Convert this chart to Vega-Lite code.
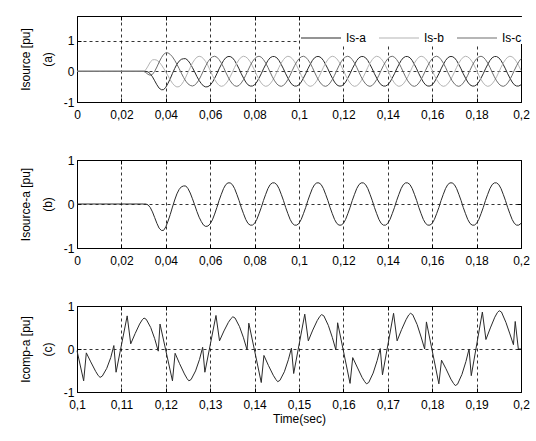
{
"$schema":"https://vega.github.io/schema/vega-lite/v6.json",
"background":"white",
"padding":{"left":18,"top":15,"right":10,"bottom":3},
"config":{
"font":"Liberation Sans",
"view":{"stroke":"black","strokeWidth":1},
"axis":{"domain":false,"grid":true,"gridColor":"black","gridDash":[3,3],"gridWidth":0.8,"gridOpacity":1,"ticks":true,"tickColor":"black","tickSize":-4,"tickWidth":1,"labelColor":"black","labelFontSize":12,"labelFont":"Liberation Sans","labelPadding":7,"labelFlush":false,"labelOverlap":false,"titleFont":"Liberation Sans","titleFontSize":12,"titleFontWeight":"normal","titleColor":"black","titlePadding":6},
"axisX":{"labelPadding":11,"titlePadding":3},
"axisY":{"titleLineHeight":22,"titlePadding":9},
"legend":{"labelFont":"Liberation Sans","labelColor":"black"}
},
"datasets":{
"s":[
{"t":0,"a":0,"b":0,"c":0},{"t":0.01,"a":0,"b":0,"c":0},{"t":0.02,"a":0,"b":0,"c":0},{"t":0.03,"a":0,"b":0,"c":0},
{"t":0.031,"a":0,"b":0.05,"c":-0.04},{"t":0.032,"a":-0.02,"b":0.17,"c":-0.10},{"t":0.033,"a":-0.08,"b":0.30,"c":-0.13},{"t":0.034,"a":-0.18,"b":0.37,"c":-0.10},
{"t":0.035,"a":-0.31,"b":0.38,"c":0.0},{"t":0.036,"a":-0.44,"b":0.36,"c":0.14},{"t":0.037,"a":-0.55,"b":0.30,"c":0.30},{"t":0.038,"a":-0.60,"b":0.21,"c":0.44},
{"t":0.039,"a":-0.60,"b":0.10,"c":0.55},{"t":0.04,"a":-0.52,"b":-0.02,"c":0.60},{"t":0.041,"a":-0.39,"b":-0.15,"c":0.60},{"t":0.042,"a":-0.24,"b":-0.28,"c":0.55},
{"t":0.043,"a":-0.07,"b":-0.39,"c":0.47},{"t":0.044,"a":0.09,"b":-0.47,"c":0.36},{"t":0.045,"a":0.23,"b":-0.51,"c":0.23},{"t":0.046,"a":0.33,"b":-0.50,"c":0.09},
{"t":0.047,"a":0.39,"b":-0.44,"c":-0.06},{"t":0.048,"a":0.41,"b":-0.33,"c":-0.20},{"t":0.049,"a":0.41,"b":-0.19,"c":-0.32},{"t":0.05,"a":0.35,"b":-0.03,"c":-0.41},
{"t":0.051,"a":0.25,"b":0.12,"c":-0.46},{"t":0.052,"a":0.12,"b":0.27,"c":-0.48},{"t":0.053,"a":-0.02,"b":0.38,"c":-0.45},{"t":0.054,"a":-0.17,"b":0.46,"c":-0.38},
{"t":0.055,"a":-0.30,"b":0.49,"c":-0.27},{"t":0.056,"a":-0.40,"b":0.47,"c":-0.13},{"t":0.057,"a":-0.48,"b":0.41,"c":0.03},{"t":0.058,"a":-0.51,"b":0.31,"c":0.18},
{"t":0.059,"a":-0.50,"b":0.18,"c":0.31},{"t":0.06,"a":-0.45,"b":0.03,"c":0.41},{"t":0.061,"a":-0.36,"b":-0.13,"c":0.47},{"t":0.062,"a":-0.23,"b":-0.27,"c":0.49},
{"t":0.063,"a":-0.08,"b":-0.38,"c":0.46},{"t":0.064,"a":0.08,"b":-0.46,"c":0.38},{"t":0.065,"a":0.22,"b":-0.49,"c":0.27},{"t":0.066,"a":0.35,"b":-0.47,"c":0.13},
{"t":0.067,"a":0.44,"b":-0.41,"c":-0.03},{"t":0.068,"a":0.48,"b":-0.31,"c":-0.18},{"t":0.069,"a":0.48,"b":-0.18,"c":-0.31},
{"t":0.07,"a":0.44,"b":-0.03,"c":-0.41},{"t":0.071,"a":0.35,"b":0.13,"c":-0.47},{"t":0.072,"a":0.22,"b":0.27,"c":-0.49},{"t":0.073,"a":0.08,"b":0.38,"c":-0.46},
{"t":0.074,"a":-0.08,"b":0.46,"c":-0.38},{"t":0.075,"a":-0.22,"b":0.49,"c":-0.27},{"t":0.076,"a":-0.35,"b":0.47,"c":-0.13},{"t":0.077,"a":-0.44,"b":0.41,"c":0.03},
{"t":0.078,"a":-0.48,"b":0.31,"c":0.18},{"t":0.079,"a":-0.48,"b":0.18,"c":0.31},
{"t":0.08,"a":-0.44,"b":0.03,"c":0.41},{"t":0.081,"a":-0.35,"b":-0.13,"c":0.47},{"t":0.082,"a":-0.22,"b":-0.27,"c":0.49},{"t":0.083,"a":-0.08,"b":-0.38,"c":0.46},
{"t":0.084,"a":0.08,"b":-0.46,"c":0.38},{"t":0.085,"a":0.22,"b":-0.49,"c":0.27},{"t":0.086,"a":0.35,"b":-0.47,"c":0.13},{"t":0.087,"a":0.44,"b":-0.41,"c":-0.03},
{"t":0.088,"a":0.48,"b":-0.31,"c":-0.18},{"t":0.089,"a":0.48,"b":-0.18,"c":-0.31},
{"t":0.09,"a":0.44,"b":-0.03,"c":-0.41},{"t":0.091,"a":0.35,"b":0.13,"c":-0.47},{"t":0.092,"a":0.22,"b":0.27,"c":-0.49},{"t":0.093,"a":0.08,"b":0.38,"c":-0.46},
{"t":0.094,"a":-0.08,"b":0.46,"c":-0.38},{"t":0.095,"a":-0.22,"b":0.49,"c":-0.27},{"t":0.096,"a":-0.35,"b":0.47,"c":-0.13},{"t":0.097,"a":-0.44,"b":0.41,"c":0.03},
{"t":0.098,"a":-0.48,"b":0.31,"c":0.18},{"t":0.099,"a":-0.48,"b":0.18,"c":0.31},
{"t":0.1,"a":-0.44,"b":0.03,"c":0.41},{"t":0.101,"a":-0.35,"b":-0.13,"c":0.47},{"t":0.102,"a":-0.22,"b":-0.27,"c":0.49},{"t":0.103,"a":-0.08,"b":-0.38,"c":0.46},
{"t":0.104,"a":0.08,"b":-0.46,"c":0.38},{"t":0.105,"a":0.22,"b":-0.49,"c":0.27},{"t":0.106,"a":0.35,"b":-0.47,"c":0.13},{"t":0.107,"a":0.44,"b":-0.41,"c":-0.03},
{"t":0.108,"a":0.48,"b":-0.31,"c":-0.18},{"t":0.109,"a":0.48,"b":-0.18,"c":-0.31},
{"t":0.11,"a":0.44,"b":-0.03,"c":-0.41},{"t":0.111,"a":0.35,"b":0.13,"c":-0.47},{"t":0.112,"a":0.22,"b":0.27,"c":-0.49},{"t":0.113,"a":0.08,"b":0.38,"c":-0.46},
{"t":0.114,"a":-0.08,"b":0.46,"c":-0.38},{"t":0.115,"a":-0.22,"b":0.49,"c":-0.27},{"t":0.116,"a":-0.35,"b":0.47,"c":-0.13},{"t":0.117,"a":-0.44,"b":0.41,"c":0.03},
{"t":0.118,"a":-0.48,"b":0.31,"c":0.18},{"t":0.119,"a":-0.48,"b":0.18,"c":0.31},
{"t":0.12,"a":-0.44,"b":0.03,"c":0.41},{"t":0.121,"a":-0.35,"b":-0.13,"c":0.47},{"t":0.122,"a":-0.22,"b":-0.27,"c":0.49},{"t":0.123,"a":-0.08,"b":-0.38,"c":0.46},
{"t":0.124,"a":0.08,"b":-0.46,"c":0.38},{"t":0.125,"a":0.22,"b":-0.49,"c":0.27},{"t":0.126,"a":0.35,"b":-0.47,"c":0.13},{"t":0.127,"a":0.44,"b":-0.41,"c":-0.03},
{"t":0.128,"a":0.48,"b":-0.31,"c":-0.18},{"t":0.129,"a":0.48,"b":-0.18,"c":-0.31},
{"t":0.13,"a":0.44,"b":-0.03,"c":-0.41},{"t":0.131,"a":0.35,"b":0.13,"c":-0.47},{"t":0.132,"a":0.22,"b":0.27,"c":-0.49},{"t":0.133,"a":0.08,"b":0.38,"c":-0.46},
{"t":0.134,"a":-0.08,"b":0.46,"c":-0.38},{"t":0.135,"a":-0.22,"b":0.49,"c":-0.27},{"t":0.136,"a":-0.35,"b":0.47,"c":-0.13},{"t":0.137,"a":-0.44,"b":0.41,"c":0.03},
{"t":0.138,"a":-0.48,"b":0.31,"c":0.18},{"t":0.139,"a":-0.48,"b":0.18,"c":0.31},
{"t":0.14,"a":-0.44,"b":0.03,"c":0.41},{"t":0.141,"a":-0.35,"b":-0.13,"c":0.47},{"t":0.142,"a":-0.22,"b":-0.27,"c":0.49},{"t":0.143,"a":-0.08,"b":-0.38,"c":0.46},
{"t":0.144,"a":0.08,"b":-0.46,"c":0.38},{"t":0.145,"a":0.22,"b":-0.49,"c":0.27},{"t":0.146,"a":0.35,"b":-0.47,"c":0.13},{"t":0.147,"a":0.44,"b":-0.41,"c":-0.03},
{"t":0.148,"a":0.48,"b":-0.31,"c":-0.18},{"t":0.149,"a":0.48,"b":-0.18,"c":-0.31},
{"t":0.15,"a":0.44,"b":-0.03,"c":-0.41},{"t":0.151,"a":0.35,"b":0.13,"c":-0.47},{"t":0.152,"a":0.22,"b":0.27,"c":-0.49},{"t":0.153,"a":0.08,"b":0.38,"c":-0.46},
{"t":0.154,"a":-0.08,"b":0.46,"c":-0.38},{"t":0.155,"a":-0.22,"b":0.49,"c":-0.27},{"t":0.156,"a":-0.35,"b":0.47,"c":-0.13},{"t":0.157,"a":-0.44,"b":0.41,"c":0.03},
{"t":0.158,"a":-0.48,"b":0.31,"c":0.18},{"t":0.159,"a":-0.48,"b":0.18,"c":0.31},
{"t":0.16,"a":-0.44,"b":0.03,"c":0.41},{"t":0.161,"a":-0.35,"b":-0.13,"c":0.47},{"t":0.162,"a":-0.22,"b":-0.27,"c":0.49},{"t":0.163,"a":-0.08,"b":-0.38,"c":0.46},
{"t":0.164,"a":0.08,"b":-0.46,"c":0.38},{"t":0.165,"a":0.22,"b":-0.49,"c":0.27},{"t":0.166,"a":0.35,"b":-0.47,"c":0.13},{"t":0.167,"a":0.44,"b":-0.41,"c":-0.03},
{"t":0.168,"a":0.48,"b":-0.31,"c":-0.18},{"t":0.169,"a":0.48,"b":-0.18,"c":-0.31},
{"t":0.17,"a":0.44,"b":-0.03,"c":-0.41},{"t":0.171,"a":0.35,"b":0.13,"c":-0.47},{"t":0.172,"a":0.22,"b":0.27,"c":-0.49},{"t":0.173,"a":0.08,"b":0.38,"c":-0.46},
{"t":0.174,"a":-0.08,"b":0.46,"c":-0.38},{"t":0.175,"a":-0.22,"b":0.49,"c":-0.27},{"t":0.176,"a":-0.35,"b":0.47,"c":-0.13},{"t":0.177,"a":-0.44,"b":0.41,"c":0.03},
{"t":0.178,"a":-0.48,"b":0.31,"c":0.18},{"t":0.179,"a":-0.48,"b":0.18,"c":0.31},
{"t":0.18,"a":-0.44,"b":0.03,"c":0.41},{"t":0.181,"a":-0.35,"b":-0.13,"c":0.47},{"t":0.182,"a":-0.22,"b":-0.27,"c":0.49},{"t":0.183,"a":-0.08,"b":-0.38,"c":0.46},
{"t":0.184,"a":0.08,"b":-0.46,"c":0.38},{"t":0.185,"a":0.22,"b":-0.49,"c":0.27},{"t":0.186,"a":0.35,"b":-0.47,"c":0.13},{"t":0.187,"a":0.44,"b":-0.41,"c":-0.03},
{"t":0.188,"a":0.48,"b":-0.31,"c":-0.18},{"t":0.189,"a":0.48,"b":-0.18,"c":-0.31},
{"t":0.19,"a":0.44,"b":-0.03,"c":-0.41},{"t":0.191,"a":0.35,"b":0.13,"c":-0.47},{"t":0.192,"a":0.22,"b":0.27,"c":-0.49},{"t":0.193,"a":0.08,"b":0.38,"c":-0.46},
{"t":0.194,"a":-0.08,"b":0.46,"c":-0.38},{"t":0.195,"a":-0.22,"b":0.49,"c":-0.27},{"t":0.196,"a":-0.35,"b":0.47,"c":-0.13},{"t":0.197,"a":-0.44,"b":0.41,"c":0.03},
{"t":0.198,"a":-0.48,"b":0.31,"c":0.18},{"t":0.199,"a":-0.48,"b":0.18,"c":0.31},
{"t":0.2,"a":-0.44,"b":0.03,"c":0.41}
],
"k":[
{"t":0.1,"v":-0.04},
{"t":0.1015,"v":-0.74},{"t":0.1021,"v":-0.09},{"t":0.1031,"v":-0.30},{"t":0.1042,"v":-0.52},{"t":0.1048,"v":-0.62},{"t":0.1052,"v":-0.66},{"t":0.1057,"v":-0.63},{"t":0.1067,"v":-0.45},{"t":0.1076,"v":-0.20},{"t":0.1083,"v":0.08},{"t":0.1088,"v":-0.54},
{"t":0.1113,"v":0.77},{"t":0.1121,"v":0.12},{"t":0.1131,"v":0.36},{"t":0.1141,"v":0.58},{"t":0.1147,"v":0.68},{"t":0.1151,"v":0.72},{"t":0.1156,"v":0.69},{"t":0.1166,"v":0.50},{"t":0.1175,"v":0.24},{"t":0.1183,"v":-0.05},{"t":0.1187,"v":0.58},
{"t":0.1215,"v":-0.74},{"t":0.1221,"v":-0.10},{"t":0.1231,"v":-0.34},{"t":0.1242,"v":-0.58},{"t":0.1248,"v":-0.69},{"t":0.1252,"v":-0.74},{"t":0.1257,"v":-0.71},{"t":0.1267,"v":-0.51},{"t":0.1276,"v":-0.24},{"t":0.1283,"v":0.04},{"t":0.1288,"v":-0.54},
{"t":0.1313,"v":0.78},{"t":0.1321,"v":0.19},{"t":0.1331,"v":0.42},{"t":0.1341,"v":0.62},{"t":0.1347,"v":0.71},{"t":0.1351,"v":0.75},{"t":0.1356,"v":0.72},{"t":0.1366,"v":0.52},{"t":0.1375,"v":0.26},{"t":0.1383,"v":-0.02},{"t":0.1387,"v":0.60},
{"t":0.1415,"v":-0.78},{"t":0.1421,"v":-0.15},{"t":0.1431,"v":-0.38},{"t":0.1442,"v":-0.61},{"t":0.1448,"v":-0.71},{"t":0.1452,"v":-0.76},{"t":0.1457,"v":-0.73},{"t":0.1467,"v":-0.53},{"t":0.1476,"v":-0.25},{"t":0.1483,"v":0.02},{"t":0.1488,"v":-0.57},
{"t":0.1513,"v":0.81},{"t":0.1521,"v":0.19},{"t":0.1531,"v":0.44},{"t":0.1541,"v":0.66},{"t":0.1547,"v":0.76},{"t":0.1551,"v":0.80},{"t":0.1556,"v":0.77},{"t":0.1566,"v":0.55},{"t":0.1575,"v":0.27},{"t":0.1583,"v":-0.02},{"t":0.1587,"v":0.61},
{"t":0.1615,"v":-0.80},{"t":0.1621,"v":-0.20},{"t":0.1631,"v":-0.42},{"t":0.1642,"v":-0.66},{"t":0.1648,"v":-0.76},{"t":0.1652,"v":-0.81},{"t":0.1657,"v":-0.78},{"t":0.1667,"v":-0.56},{"t":0.1676,"v":-0.27},{"t":0.1683,"v":0.01},{"t":0.1688,"v":-0.60},
{"t":0.1713,"v":0.83},{"t":0.1721,"v":0.19},{"t":0.1731,"v":0.45},{"t":0.1741,"v":0.68},{"t":0.1747,"v":0.79},{"t":0.1751,"v":0.83},{"t":0.1756,"v":0.80},{"t":0.1766,"v":0.57},{"t":0.1775,"v":0.28},{"t":0.1783,"v":0.0},{"t":0.1787,"v":0.63},
{"t":0.1815,"v":-0.81},{"t":0.1821,"v":-0.26},{"t":0.1831,"v":-0.46},{"t":0.1842,"v":-0.70},{"t":0.1848,"v":-0.80},{"t":0.1852,"v":-0.85},{"t":0.1857,"v":-0.82},{"t":0.1867,"v":-0.59},{"t":0.1876,"v":-0.29},{"t":0.1883,"v":0.0},{"t":0.1888,"v":-0.62},
{"t":0.1913,"v":0.86},{"t":0.1921,"v":0.22},{"t":0.1931,"v":0.49},{"t":0.1941,"v":0.74},{"t":0.1947,"v":0.85},{"t":0.1951,"v":0.89},{"t":0.1956,"v":0.86},{"t":0.1966,"v":0.62},{"t":0.1975,"v":0.35},{"t":0.1983,"v":0.10},{"t":0.1987,"v":0.64},{"t":0.1994,"v":0.0},{"t":0.2,"v":0.0}
]
},
"spacing":58,
"bounds":"flush",
"vconcat":[
{
"width":444,"height":86,
"data":{"name":"s"},
"transform":[{"fold":["a","b","c"],"as":["p","v"]}],
"layer":[
{"mark":{"type":"line","strokeWidth":1},
"encoding":{
"x":{"field":"t","type":"quantitative","scale":{"domain":[0,0.2],"nice":false},"axis":{"values":[0,0.02,0.04,0.06,0.08,0.1,0.12,0.14,0.16,0.18,0.2],"labelExpr":"replace(''+datum.value,'.',',')","title":null}},
"y":{"field":"v","type":"quantitative","scale":{"domain":[-1,1.8],"nice":false},"axis":{"values":[-1,0,1],"labelExpr":"''+datum.value","title":["Isource [pu]","(a)"]}},
"color":{"field":"p","type":"nominal","scale":{"domain":["a","b","c"],"range":["#2a2a2a","#b4b4b4","#6e6e6e"]},"legend":{"orient":"none","legendX":223,"legendY":1,"direction":"horizontal","title":null,"symbolType":"stroke","symbolSize":1600,"symbolStrokeWidth":1.2,"labelExpr":"'Is-'+datum.label","fillColor":"white","padding":0,"columnPadding":9,"labelOffset":4,"labelFontSize":12}}
}},
{"mark":{"type":"line","opacity":0},
"encoding":{
"x":{"field":"t","type":"quantitative","axis":{"orient":"top","values":[0,0.02,0.04,0.06,0.08,0.1,0.12,0.14,0.16,0.18,0.2],"labels":false,"grid":false,"title":null}},
"y":{"field":"v","type":"quantitative","axis":{"orient":"right","values":[-1,0,1],"labels":false,"grid":false,"title":null}}
}}
],
"resolve":{"axis":{"x":"independent","y":"independent"}}
},
{
"width":444,"height":88,
"data":{"name":"s"},
"layer":[
{"mark":{"type":"line","strokeWidth":1,"color":"#2a2a2a"},
"encoding":{
"x":{"field":"t","type":"quantitative","scale":{"domain":[0,0.2],"nice":false},"axis":{"values":[0,0.02,0.04,0.06,0.08,0.1,0.12,0.14,0.16,0.18,0.2],"labelExpr":"replace(''+datum.value,'.',',')","title":null}},
"y":{"field":"a","type":"quantitative","scale":{"domain":[-1,1],"nice":false},"axis":{"values":[-1,0,1],"labelExpr":"''+datum.value","title":["Isource-a [pu]","(b)"]}}
}},
{"mark":{"type":"line","opacity":0},
"encoding":{
"x":{"field":"t","type":"quantitative","axis":{"orient":"top","values":[0,0.02,0.04,0.06,0.08,0.1,0.12,0.14,0.16,0.18,0.2],"labels":false,"grid":false,"title":null}},
"y":{"field":"a","type":"quantitative","axis":{"orient":"right","values":[-1,0,1],"labels":false,"grid":false,"title":null}}
}}
],
"resolve":{"axis":{"x":"independent","y":"independent"}}
},
{
"width":444,"height":86,
"data":{"name":"k"},
"layer":[
{"mark":{"type":"line","strokeWidth":1,"color":"#2a2a2a"},
"encoding":{
"x":{"field":"t","type":"quantitative","scale":{"domain":[0.1,0.2],"nice":false,"zero":false},"axis":{"values":[0.1,0.11,0.12,0.13,0.14,0.15,0.16,0.17,0.18,0.19,0.2],"labelExpr":"replace(''+datum.value,'.',',')","title":"Time(sec)"}},
"y":{"field":"v","type":"quantitative","scale":{"domain":[-1,1],"nice":false},"axis":{"values":[-1,0,1],"labelExpr":"''+datum.value","title":["Icomp-a [pu]","(c)"]}}
}},
{"mark":{"type":"line","opacity":0},
"encoding":{
"x":{"field":"t","type":"quantitative","axis":{"orient":"top","values":[0.1,0.11,0.12,0.13,0.14,0.15,0.16,0.17,0.18,0.19,0.2],"labels":false,"grid":false,"title":null}},
"y":{"field":"v","type":"quantitative","axis":{"orient":"right","values":[-1,0,1],"labels":false,"grid":false,"title":null}}
}}
],
"resolve":{"axis":{"x":"independent","y":"independent"}}
}
]
}
